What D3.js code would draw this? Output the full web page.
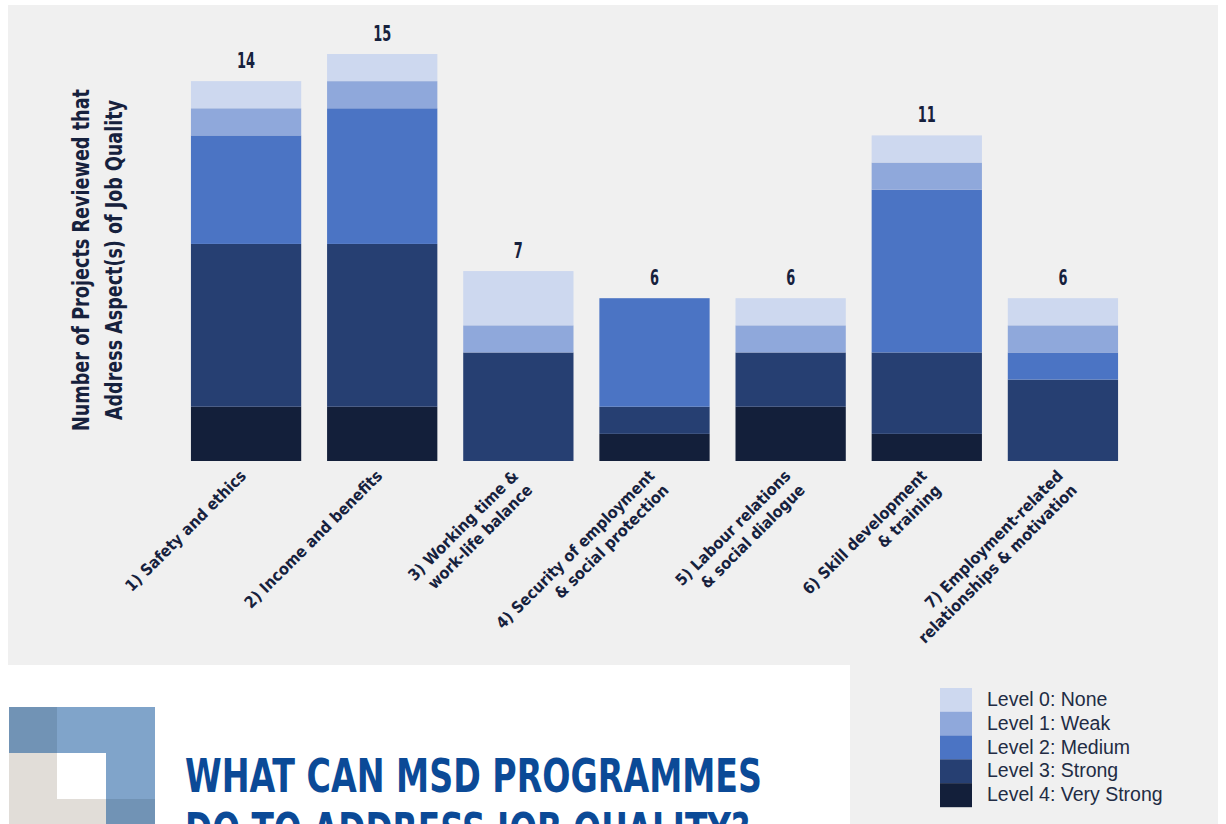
<!DOCTYPE html>
<html>
<head>
<meta charset="utf-8">
<script src="https://cdn.jsdelivr.net/npm/d3@7"></script>
<style>
  html, body { margin: 0; padding: 0; background: #ffffff; }
  svg { display: block; }
</style>
</head>
<body>
<svg id="chart" width="1226" height="824"></svg>
<script>
// ---- DATA ----
const categories = [
  "1) Safety and ethics",
  "2) Income and benefits",
  "3) Working time &\nwork-life balance",
  "4) Security of employment\n& social protection",
  "5) Labour relations\n& social dialogue",
  "6) Skill development\n& training",
  "7) Employment-related\nrelationships & motivation"
];
const levels = ["Level 4: Very Strong", "Level 3: Strong", "Level 2: Medium", "Level 1: Weak", "Level 0: None"];
const level4 = [2, 2, 0, 1, 2, 1, 0];
const level3 = [6, 6, 4, 1, 2, 3, 3];
const level2 = [4, 5, 0, 4, 0, 6, 1];
const level1 = [1, 1, 1, 0, 1, 1, 1];
const level0 = [1, 1, 2, 0, 1, 1, 1];
const totalLabels = ["14", "15", "7", "6", "6", "11", "6"];
const levelColors = ["#131f3a", "#263f72", "#4b74c4", "#8fa8db", "#cdd8ef"];
const legendOrder = ["Level 0: None", "Level 1: Weak", "Level 2: Medium", "Level 3: Strong", "Level 4: Very Strong"];
const yTitleLines = ["Number of Projects Reviewed that", "Address Aspect(s) of Job Quality"];
const headingLines = ["WHAT CAN MSD PROGRAMMES", "DO TO ADDRESS JOB QUALITY?"];

const svg = d3.select("#chart");
const navy = "#16213d";
const condensed = "'Liberation Sans Narrow', 'DejaVu Sans Condensed', 'Roboto', sans-serif";

// ---- BACKGROUND PANELS ----
svg.append("rect").attr("x", 8).attr("y", 5).attr("width", 1210).attr("height", 660).attr("fill", "#f0f0f0");
svg.append("rect").attr("x", 850).attr("y", 665).attr("width", 368).attr("height", 159).attr("fill", "#f0f0f0");

// ---- SCALES ----
const x = d3.scaleBand().domain(categories).range([178, 1131]).paddingInner(0.19).paddingOuter(0.095);
const y = d3.scaleLinear().domain([0, 15]).range([461, 54]);
const color = d3.scaleOrdinal().domain(levels).range(levelColors);

const table = categories.map((c, i) => ({
  cat: c,
  "Level 4: Very Strong": level4[i],
  "Level 3: Strong": level3[i],
  "Level 2: Medium": level2[i],
  "Level 1: Weak": level1[i],
  "Level 0: None": level0[i]
}));
const stacked = d3.stack().keys(levels)(table);

svg.append("g").selectAll("g").data(stacked).join("g")
  .attr("fill", d => color(d.key))
  .selectAll("rect").data(d => d).join("rect")
  .attr("x", d => x(d.data.cat))
  .attr("width", x.bandwidth())
  .attr("y", d => y(d[1]))
  .attr("height", d => y(d[0]) - y(d[1]));

// ---- TOTAL LABELS ----
const tops = stacked[stacked.length - 1];
svg.append("g").selectAll("text").data(categories).join("text")
  .attr("x", d => x(d) + x.bandwidth() / 2)
  .attr("y", (d, i) => y(tops[i][1]) - 13)
  .attr("text-anchor", "middle")
  .attr("font-family", condensed)
  .attr("font-weight", "bold")
  .attr("font-size", 22)
  .attr("fill", navy)
  .attr("textLength", (d, i) => totalLabels[i].length * 9)
  .attr("lengthAdjust", "spacingAndGlyphs")
  .text((d, i) => totalLabels[i]);

// ---- X AXIS LABELS ----
const xl = svg.append("g").selectAll("text").data(categories).join("text")
  .attr("transform", d => `translate(${x(d) + x.bandwidth() / 2 + 1},477) rotate(-45)`)
  .attr("text-anchor", "end")
  .attr("font-family", condensed)
  .attr("font-weight", "bold")
  .attr("font-size", 16)
  .attr("fill", navy);
xl.each(function(d) {
  const lines = d.split("\n");
  d3.select(this).selectAll("tspan").data(lines).join("tspan")
    .attr("x", 0)
    .attr("y", (l, i) => i * 20)
    .text(l => l);
});

// ---- Y TITLE ----
const yt = svg.append("text")
  .attr("transform", "translate(0,260) rotate(-90)")
  .attr("text-anchor", "middle")
  .attr("font-family", condensed)
  .attr("font-weight", "bold")
  .attr("font-size", 23)
  .attr("fill", navy);
yt.selectAll("tspan").data(yTitleLines).join("tspan")
  .attr("x", 0)
  .attr("y", (d, i) => 89 + i * 33)
  .attr("textLength", (d, i) => i === 0 ? 342 : 320)
  .attr("lengthAdjust", "spacingAndGlyphs")
  .text(d => d);

// ---- LEGEND ----
const lg = svg.append("g").attr("transform", "translate(940,688)");
const rows = lg.selectAll("g").data(legendOrder).join("g")
  .attr("transform", (d, i) => `translate(0,${i * 23.8})`);
rows.append("rect").attr("width", 32).attr("height", 24).attr("fill", d => color(d));
rows.append("text")
  .attr("x", 47).attr("y", 18)
  .attr("font-family", "'Liberation Sans', Arial, sans-serif")
  .attr("font-size", 19.5)
  .attr("fill", "#222c44")
  .text(d => d);

// ---- DECORATION ----
const deco = [
  [9, 707, 48, 46, "#7193b5"], [57, 707, 98, 46, "#80a4ca"],
  [9, 753, 48, 71, "#e1ddd8"], [57, 753, 49, 46, "#ffffff"], [106, 753, 49, 46, "#80a4ca"],
  [57, 799, 49, 25, "#e1ddd8"], [106, 799, 49, 25, "#7193b5"]
];
svg.append("g").selectAll("rect").data(deco).join("rect")
  .attr("x", d => d[0]).attr("y", d => d[1]).attr("width", d => d[2]).attr("height", d => d[3]).attr("fill", d => d[4]);

// ---- HEADING ----
svg.append("g").selectAll("text").data(headingLines).join("text")
  .attr("x", 185)
  .attr("y", (d, i) => 792 + i * 54)
  .attr("font-family", condensed)
  .attr("font-weight", "bold")
  .attr("font-size", 47)
  .attr("fill", "#0b4a97")
  .attr("textLength", (d, i) => i === 0 ? 577 : 565)
  .attr("lengthAdjust", "spacingAndGlyphs")
  .text(d => d);
</script>
</body>
</html>
